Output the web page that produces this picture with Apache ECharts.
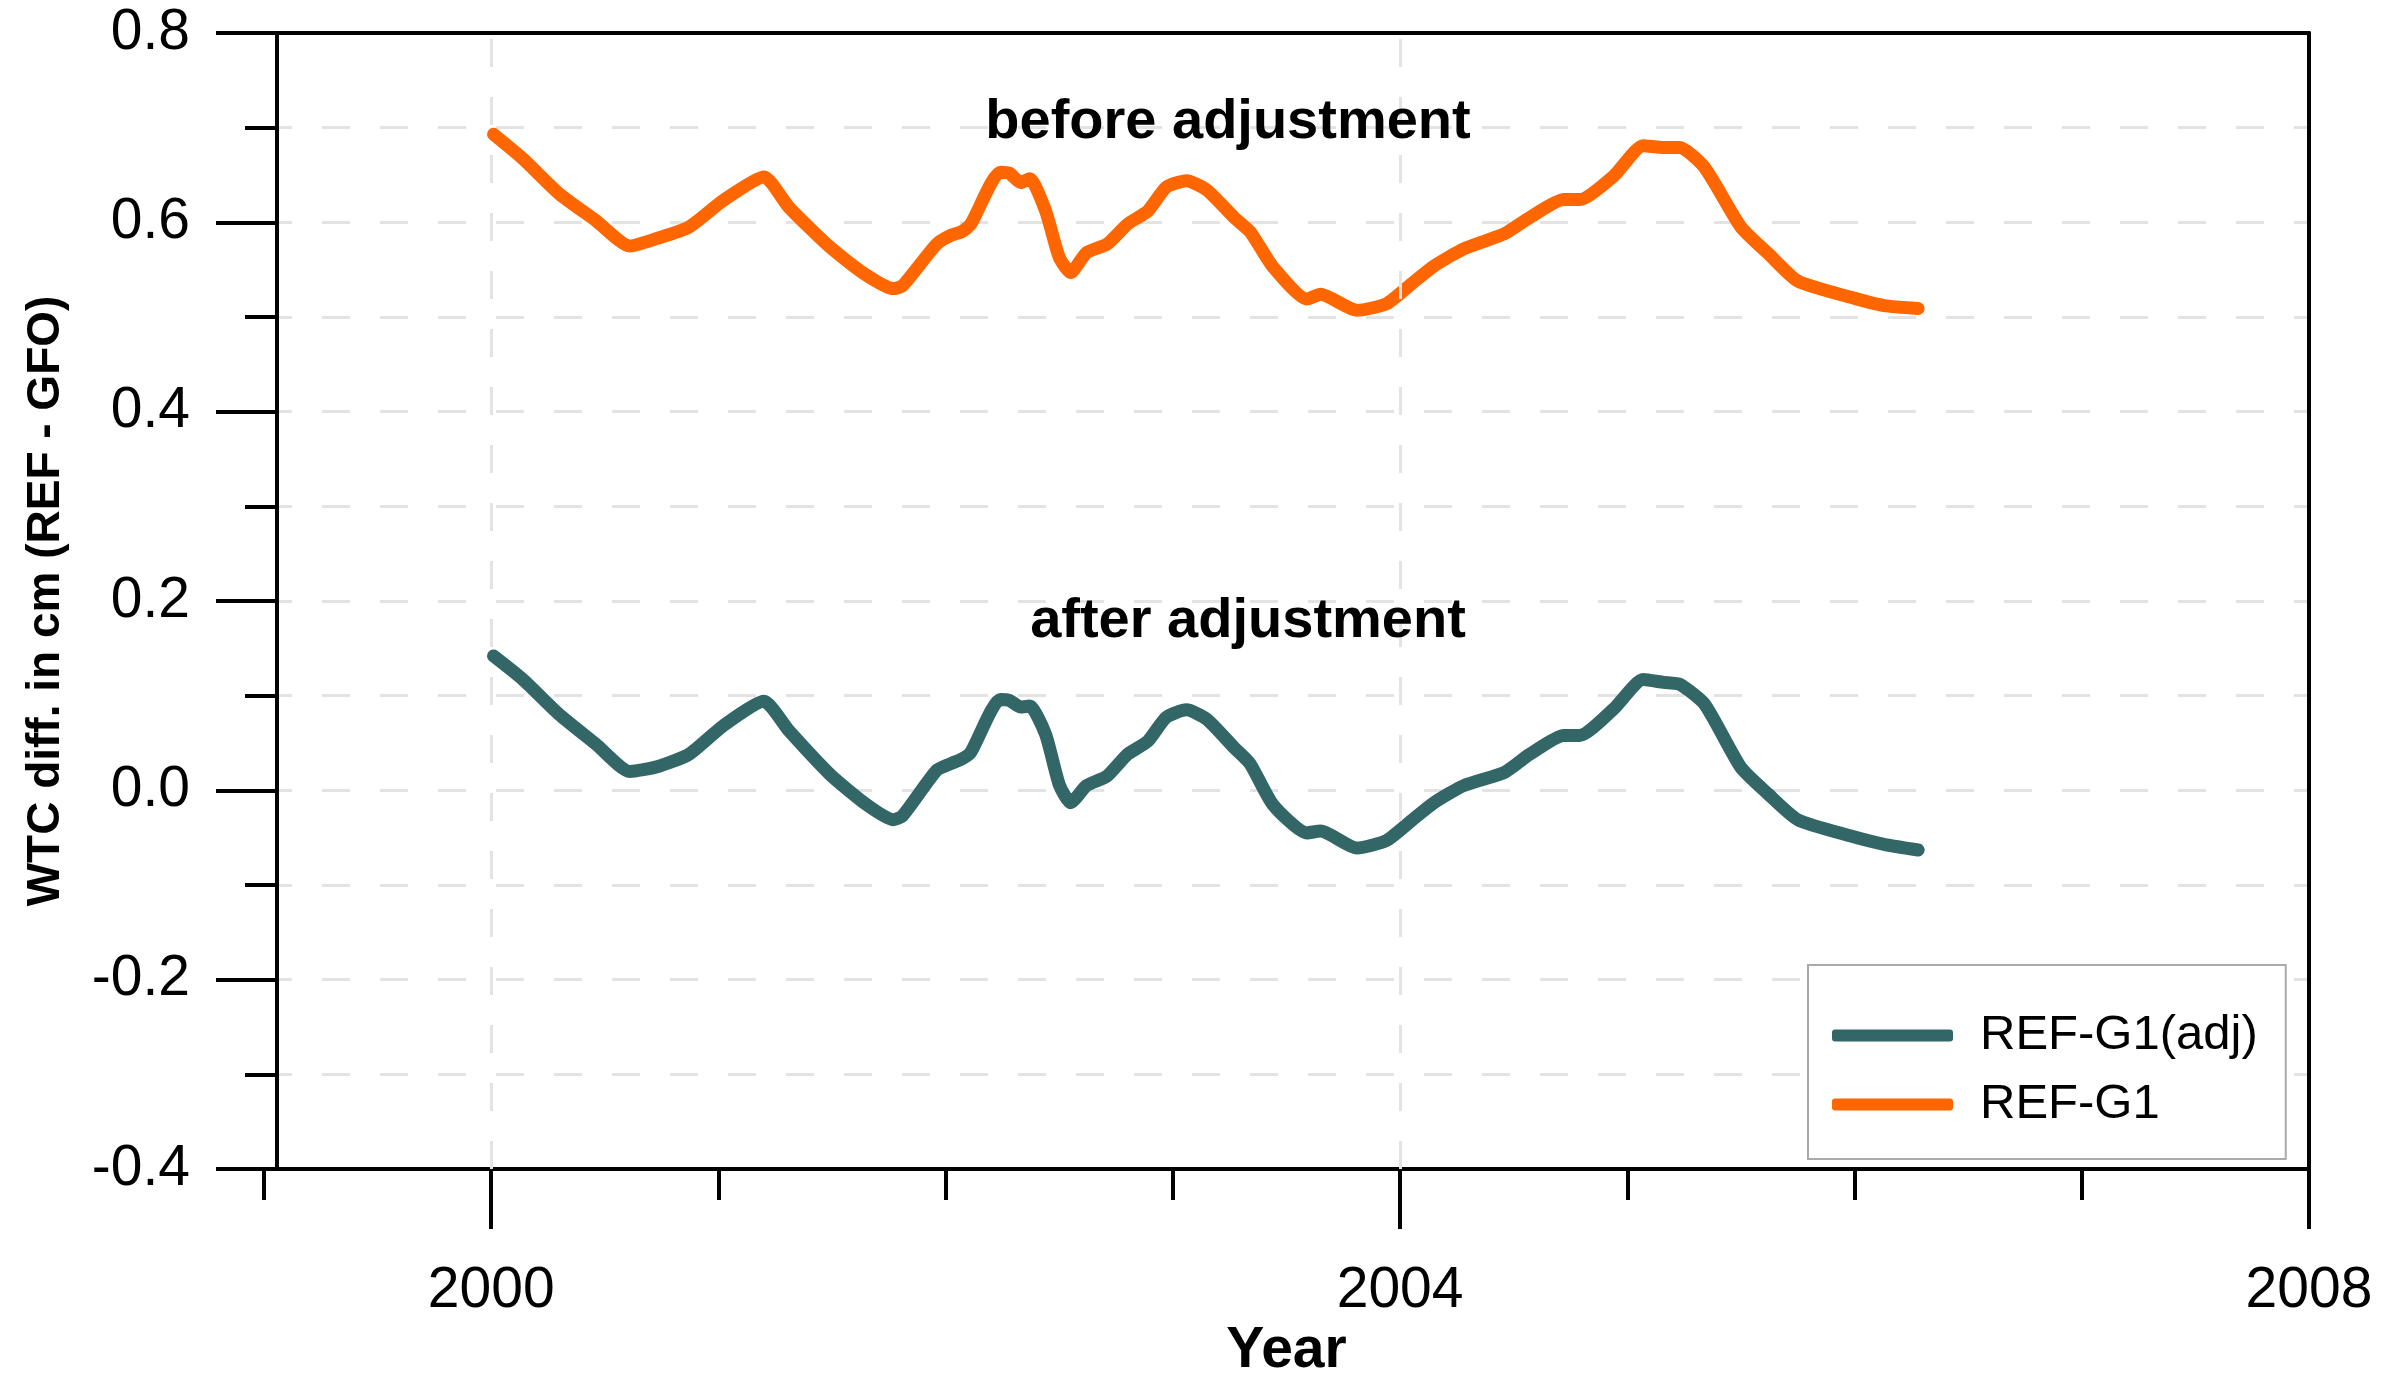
<!DOCTYPE html>
<html>
<head>
<meta charset="utf-8">
<title>WTC diff</title>
<script src="https://cdn.jsdelivr.net/npm/echarts@6/dist/echarts.min.js"></script>
<style>
  html, body { margin: 0; padding: 0; background: #fff; }
  #chart { width: 2387px; height: 1386px; }
</style>
</head>
<body>
<div id="chart"></div>
<script>
// decimal years sampled along both curves
const years = [
    2000.01, 2000.14, 2000.30, 2000.46, 2000.61, 2000.73, 2000.87, 2001.02, 2001.20, 2001.31,
    2001.49, 2001.64, 2001.77, 2001.81, 2001.96, 2002.02, 2002.07, 2002.11, 2002.24, 2002.28,
    2002.33, 2002.37, 2002.44, 2002.50, 2002.55, 2002.62, 2002.71, 2002.80, 2002.89, 2002.97,
    2003.06, 2003.15, 2003.27, 2003.34, 2003.44, 2003.59, 2003.65, 2003.81, 2003.94, 2004.05,
    2004.15, 2004.28, 2004.46, 2004.57, 2004.72, 2004.79, 2004.94, 2005.07, 2005.16, 2005.23,
    2005.34, 2005.50, 2005.62, 2005.75, 2005.98, 2006.13, 2006.28
];

// REF-G1 (before adjustment)
const refG1 = [
    0.693, 0.667, 0.630, 0.602, 0.575, 0.583, 0.595, 0.623, 0.648, 0.616,
    0.574, 0.546, 0.530, 0.533, 0.577, 0.586, 0.590, 0.598, 0.653, 0.652,
    0.642, 0.646, 0.612, 0.563, 0.547, 0.568, 0.577, 0.598, 0.612, 0.637,
    0.644, 0.634, 0.605, 0.590, 0.553, 0.519, 0.524, 0.507, 0.514, 0.535,
    0.554, 0.572, 0.588, 0.605, 0.624, 0.624, 0.649, 0.681, 0.679, 0.679,
    0.658, 0.595, 0.567, 0.538, 0.521, 0.512, 0.509
];

// REF-G1(adj) (after adjustment)
const refG1Adj = [
    0.142, 0.117, 0.080, 0.049, 0.020, 0.025, 0.038, 0.068, 0.094, 0.063,
    0.017, -0.013, -0.031, -0.027, 0.021, 0.028, 0.033, 0.040, 0.096, 0.095,
    0.088, 0.089, 0.059, 0.006, -0.013, 0.005, 0.015, 0.038, 0.052, 0.077,
    0.085, 0.075, 0.045, 0.028, -0.015, -0.045, -0.043, -0.061, -0.053, -0.032,
    -0.013, 0.005, 0.019, 0.038, 0.058, 0.058, 0.086, 0.117, 0.114, 0.112,
    0.091, 0.024, -0.004, -0.031, -0.048, -0.057, -0.063
];

const yearLabels = [2000, 2004, 2008];
const yearGrid = [2000, 2004];

const FONT = "'Liberation Sans', Arial, sans-serif";

const initChart = () => {
    const chart = echarts.init(document.getElementById('chart'));

    const axisLineStyle = { color: '#000', width: 4 };
    const gridLineStyle = { color: '#e3e3e3', width: 3, type: [28, 30] };

    chart.setOption({
        animation: false,
        backgroundColor: '#fff',
        grid: { left: 264, right: 78, top: 33, bottom: 217 },
        legend: {
            data: ['REF-G1(adj)', 'REF-G1'],
            orient: 'vertical',
            left: 1808,
            top: 965,
            padding: [46, 28, 30, 24],
            itemGap: 20,
            itemWidth: 121,
            itemHeight: 12,
            icon: 'roundRect',
            backgroundColor: '#fff',
            borderColor: '#aaa',
            borderWidth: 2,
            textStyle: {
                fontFamily: FONT,
                fontSize: 49,
                color: '#000',
                padding: [0, 0, 0, 22]
            }
        },
        xAxis: [
            {
                type: 'value', min: 1999, max: 2008, interval: 1,
                position: 'bottom',
                axisLine: { onZero: false, lineStyle: axisLineStyle },
                axisTick: { length: 31, lineStyle: axisLineStyle },
                axisLabel: { show: false },
                splitLine: { show: false },
                name: 'Year',
                nameLocation: 'middle',
                nameGap: 154,
                nameTextStyle: { fontFamily: FONT, fontSize: 57, fontWeight: 'bold', color: '#000' }
            },
            {
                type: 'value', min: 1999, max: 2008,
                position: 'bottom',
                axisLine: { show: false, onZero: false },
                axisTick: { length: 60, lineStyle: axisLineStyle, customValues: yearLabels },
                axisLabel: {
                    customValues: yearLabels,
                    fontFamily: FONT, fontSize: 57, color: '#000', margin: 94,
                    formatter: v => String(v)
                },
                splitLine: { show: false }
            },
            {
                type: 'value', min: 1999, max: 2008,
                position: 'top',
                axisLine: { onZero: false, lineStyle: axisLineStyle },
                axisTick: { show: false },
                axisLabel: { show: false },
                splitLine: { show: false }
            }
        ],
        yAxis: [
            {
                type: 'value', min: -0.4, max: 0.8, interval: 0.1,
                position: 'left', offset: -13,
                axisLine: { onZero: false, lineStyle: axisLineStyle },
                axisTick: { length: 32, lineStyle: axisLineStyle },
                axisLabel: { show: false },
                splitLine: { lineStyle: gridLineStyle }
            },
            {
                type: 'value', min: -0.4, max: 0.8, interval: 0.2,
                position: 'left', offset: -13,
                axisLine: { show: false, onZero: false },
                axisTick: { length: 61, lineStyle: axisLineStyle },
                axisLabel: {
                    fontFamily: FONT, fontSize: 57, color: '#000', margin: 87,
                    formatter: v => v.toFixed(1)
                },
                splitLine: { show: false },
                name: 'WTC diff. in cm (REF - GFO)',
                nameLocation: 'middle',
                nameGap: 208,
                nameTextStyle: { fontFamily: FONT, fontSize: 46, fontWeight: 'bold', color: '#000' }
            },
            {
                type: 'value', min: -0.4, max: 0.8,
                position: 'right',
                axisLine: { show: true, onZero: false, lineStyle: axisLineStyle },
                axisTick: { show: false },
                axisLabel: { show: false },
                splitLine: { show: false }
            }
        ],
        graphic: [
            {
                type: 'text', x: 1228, y: 123, z: 10,
                style: {
                    text: 'before adjustment', align: 'center', verticalAlign: 'middle',
                    font: "bold 56px 'Liberation Sans', Arial, sans-serif", fill: '#000'
                }
            },
            {
                type: 'text', x: 1248, y: 622, z: 10,
                style: {
                    text: 'after adjustment', align: 'center', verticalAlign: 'middle',
                    font: "bold 56px 'Liberation Sans', Arial, sans-serif", fill: '#000'
                }
            }
        ],
        series: [
            {
                // vertical dashed grid at the labelled years
                name: 'grid',
                type: 'line',
                data: [],
                z: 1,
                silent: true,
                markLine: {
                    silent: true,
                    symbol: 'none',
                    label: { show: false },
                    lineStyle: gridLineStyle,
                    data: yearGrid.map(y => ({ xAxis: y }))
                }
            },
            {
                name: 'REF-G1(adj)',
                type: 'line',
                data: years.map((y, i) => [y, refG1Adj[i]]),
                showSymbol: false,
                smooth: 0.2,
                z: 3,
                itemStyle: { color: '#336666' },
                lineStyle: { color: '#336666', width: 13, cap: 'round', join: 'round' }
            },
            {
                name: 'REF-G1',
                type: 'line',
                data: years.map((y, i) => [y, refG1[i]]),
                showSymbol: false,
                smooth: 0.2,
                z: 3,
                itemStyle: { color: '#FF6600' },
                lineStyle: { color: '#FF6600', width: 13, cap: 'round', join: 'round' }
            }
        ]
    });
};

window.addEventListener('load', () => {
    initChart();
});
</script>
</body>
</html>
